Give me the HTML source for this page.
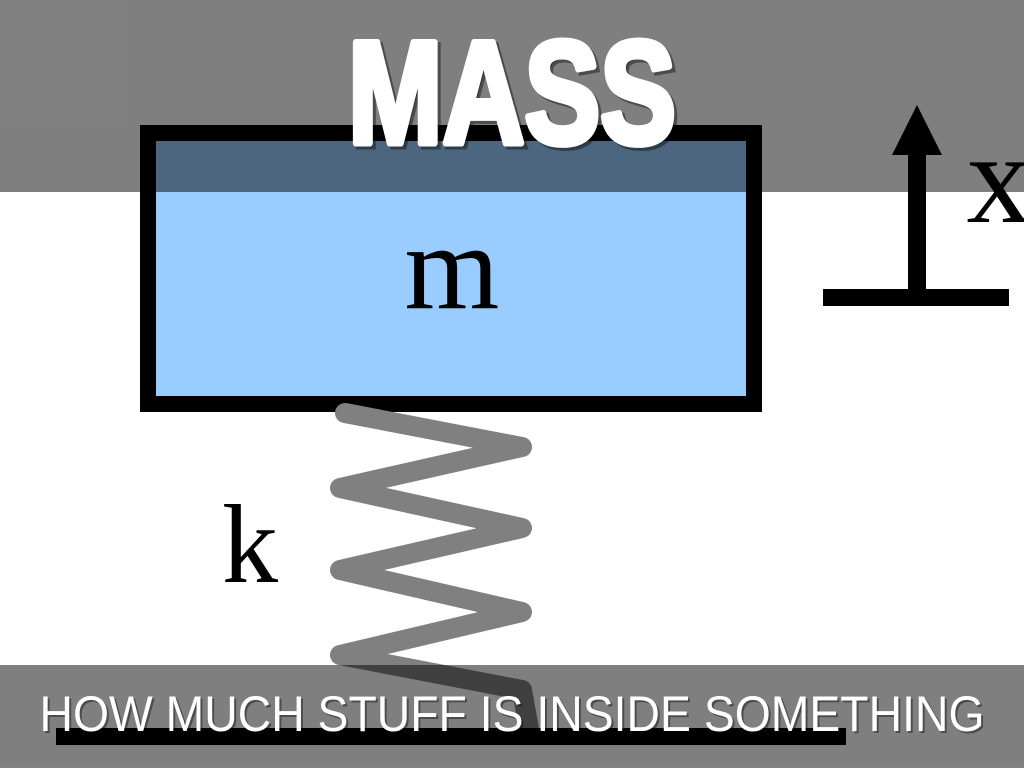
<!DOCTYPE html>
<html><head><style>html,body{margin:0;padding:0;background:#fff;}svg{display:block}</style></head>
<body>
<svg width="1024" height="768" viewBox="0 0 1024 768" xmlns="http://www.w3.org/2000/svg">
<rect width="1024" height="768" fill="#fff"/>
<rect x="148" y="133" width="606" height="271" fill="#99ccff" stroke="#000" stroke-width="16"/>
<text x="452" y="308" font-family="Liberation Serif, serif" font-size="122" text-anchor="middle" fill="#000">m</text>
<polyline points="345,413 522,447 340,488 522,528 340,570 522,612 340,655 522,690 530,735" fill="none" stroke="#808080" stroke-width="20" stroke-linejoin="round" stroke-linecap="round"/>
<text x="250" y="582" font-family="Liberation Serif, serif" font-size="112" text-anchor="middle" fill="#000">k</text>
<rect x="56" y="728" width="790" height="17" fill="#000"/>
<rect x="908" y="150" width="18" height="142" fill="#000"/>
<polygon points="917,105 942,155 892,155" fill="#000"/>
<rect x="823" y="289" width="186" height="17" fill="#000"/>
<text x="999" y="222" font-family="Liberation Serif, serif" font-size="130" text-anchor="middle" fill="#000">x</text>
<rect x="0" y="0" width="1024" height="192" fill="#000" fill-opacity="0.5"/>
<rect x="0" y="665" width="1024" height="103" fill="#000" fill-opacity="0.5"/>
<text x="512" y="143" font-family="Liberation Sans, sans-serif" font-weight="bold" font-size="146" text-anchor="middle" textLength="328" lengthAdjust="spacingAndGlyphs" fill="#000" fill-opacity="0.4" stroke="#000" stroke-opacity="0.4" stroke-width="7" transform="translate(3,3)">MASS</text>
<text x="512" y="143" font-family="Liberation Sans, sans-serif" font-weight="bold" font-size="146" text-anchor="middle" textLength="328" lengthAdjust="spacingAndGlyphs" fill="#fff" stroke="#fff" stroke-width="7" stroke-linejoin="round">MASS</text>
<text x="512" y="731" font-family="Liberation Sans, sans-serif" font-size="50" text-anchor="middle" textLength="945" lengthAdjust="spacingAndGlyphs" fill="#000" fill-opacity="0.4" transform="translate(2,2)">HOW MUCH STUFF IS INSIDE SOMETHING</text>
<text x="512" y="731" font-family="Liberation Sans, sans-serif" font-size="50" text-anchor="middle" textLength="945" lengthAdjust="spacingAndGlyphs" fill="#fff">HOW MUCH STUFF IS INSIDE SOMETHING</text>
</svg>
</body></html>
